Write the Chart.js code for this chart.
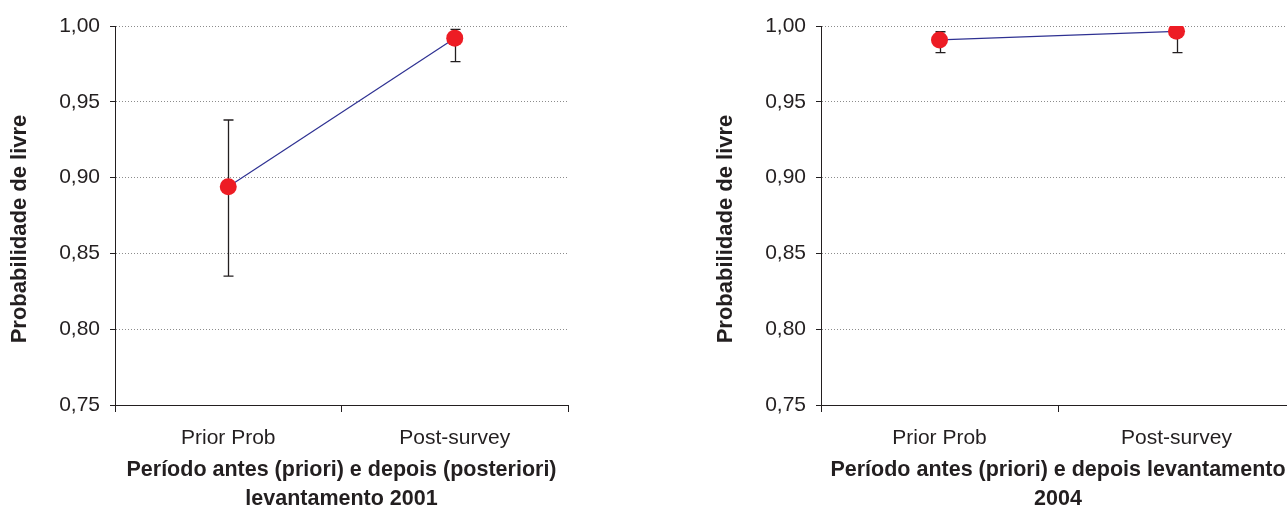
<!DOCTYPE html>
<html><head><meta charset="utf-8">
<script src="https://cdn.jsdelivr.net/npm/chart.js@4"></script>
<style>
html,body{margin:0;padding:0;background:#fff;overflow:hidden;width:1287px;height:509px;position:relative;}
#w1{position:absolute;left:0;top:0;width:590px;height:515px;}
#w2{position:absolute;left:706px;top:0;width:600px;height:515px;}
</style></head><body>
<div id="w1"><canvas id="c1"></canvas></div>
<div id="w2"><canvas id="c2"></canvas></div>
<script>
const categories = ['Prior Prob', 'Post-survey'];
const mean2001 = [0.894, 0.992];
const low2001 = [0.835, 0.9765];
const high2001 = [0.938, 0.9978];
const mean2004 = [0.9908, 0.9965];
const low2004 = [0.9824, 0.9824];
const high2004 = [0.9962, 0.999];
const yTicks = [0.75, 0.80, 0.85, 0.90, 0.95, 1.00];
const yTitle = 'Probabilidade de livre';
const xTitle2001 = ['Período antes (priori) e depois (posteriori)', 'levantamento 2001'];
const xTitle2004 = ['Período antes (priori) e depois levantamento', '2004'];

const INK = '#231f20';
const FONT = "'Liberation Sans', Arial, Helvetica, sans-serif";

const errorBars = {
  id: 'errorBars',
  beforeDatasetsDraw(chart, args, opts) {
    const {ctx, scales: {x, y}} = chart;
    ctx.save();
    ctx.strokeStyle = INK;
    ctx.lineWidth = 1.3;
    opts.low.forEach((lo, i) => {
      const px = Math.round(x.getPixelForValue(i)) + 0.5;
      const yl = y.getPixelForValue(lo), yh = y.getPixelForValue(opts.high[i]);
      ctx.beginPath();
      ctx.moveTo(px, yl); ctx.lineTo(px, yh);
      ctx.moveTo(px - 5, yl); ctx.lineTo(px + 5, yl);
      ctx.moveTo(px - 5, yh); ctx.lineTo(px + 5, yh);
      ctx.stroke();
    });
    ctx.restore();
  }
};

// vertical axis title, drawn as real canvas text
const yAxisTitle = {
  id: 'yAxisTitle',
  afterDraw(chart, args, opts) {
    const ctx = chart.ctx;
    ctx.save();
    ctx.translate(20, 229);
    ctx.rotate(-Math.PI / 2);
    ctx.fillStyle = INK;
    ctx.font = "bold 22px " + FONT;
    ctx.textAlign = 'center';
    ctx.textBaseline = 'middle';
    ctx.fillText(opts.text, 0, 0);
    ctx.restore();
  }
};

function makeChart(id, means, lows, highs, xTitle, padRight) {
  return new Chart(document.getElementById(id), {
    type: 'line',
    data: {
      labels: categories,
      datasets: [{
        data: means,
        borderColor: '#2e3192',
        borderWidth: 1.2,
        pointRadius: 8.5,
        pointHoverRadius: 8.5,
        pointBackgroundColor: '#ed1c24',
        pointBorderColor: '#ed1c24',
        pointBorderWidth: 0,
        tension: 0
      }]
    },
    options: {
      responsive: true,
      maintainAspectRatio: false,
      animation: false,
      events: [],
      layout: {padding: {top: 26, right: padRight, bottom: 0, left: 0}},
      plugins: {
        legend: {display: false},
        tooltip: {enabled: false},
        errorBars: {low: lows, high: highs},
        yAxisTitle: {text: yTitle}
      },
      scales: {
        x: {
          type: 'category',
          offset: true,
          afterFit(s) { s.height = 110; },
          grid: {offset: true, drawOnChartArea: false, drawTicks: true, tickLength: 7, tickColor: INK, tickWidth: 1},
          border: {display: true, color: INK, width: 1},
          ticks: {color: INK, padding: 14, font: {family: FONT, size: 21}, maxRotation: 0, autoSkip: false},
          title: {
            display: true, text: xTitle, color: INK,
            font: {family: FONT, size: 21.5, weight: 'bold', lineHeight: 1.33},
            padding: {top: 0, bottom: 2}
          }
        },
        y: {
          min: 0.75, max: 1.0,
          afterFit(s) { s.width = 115; },
          afterBuildTicks(s) { s.ticks = yTicks.map(v => ({value: v})); },
          grid: {
            color: '#8c8c8c', lineWidth: 1,
            drawTicks: true, tickLength: 5, tickColor: INK, tickBorderDash: [], tickWidth: 1
          },
          border: {display: true, color: INK, width: 1, dash: [1, 2]},
          ticks: {
            color: INK, padding: 10, font: {family: FONT, size: 21},
            callback: v => Number(v).toFixed(2).replace('.', ',')
          },
          title: {display: false}
        }
      }
    },
    plugins: [errorBars, yAxisTitle]
  });
}

makeChart('c1', mean2001, low2001, high2001, xTitle2001, 22);
makeChart('c2', mean2004, low2004, high2004, xTitle2004, 11);
</script>
</body></html>
